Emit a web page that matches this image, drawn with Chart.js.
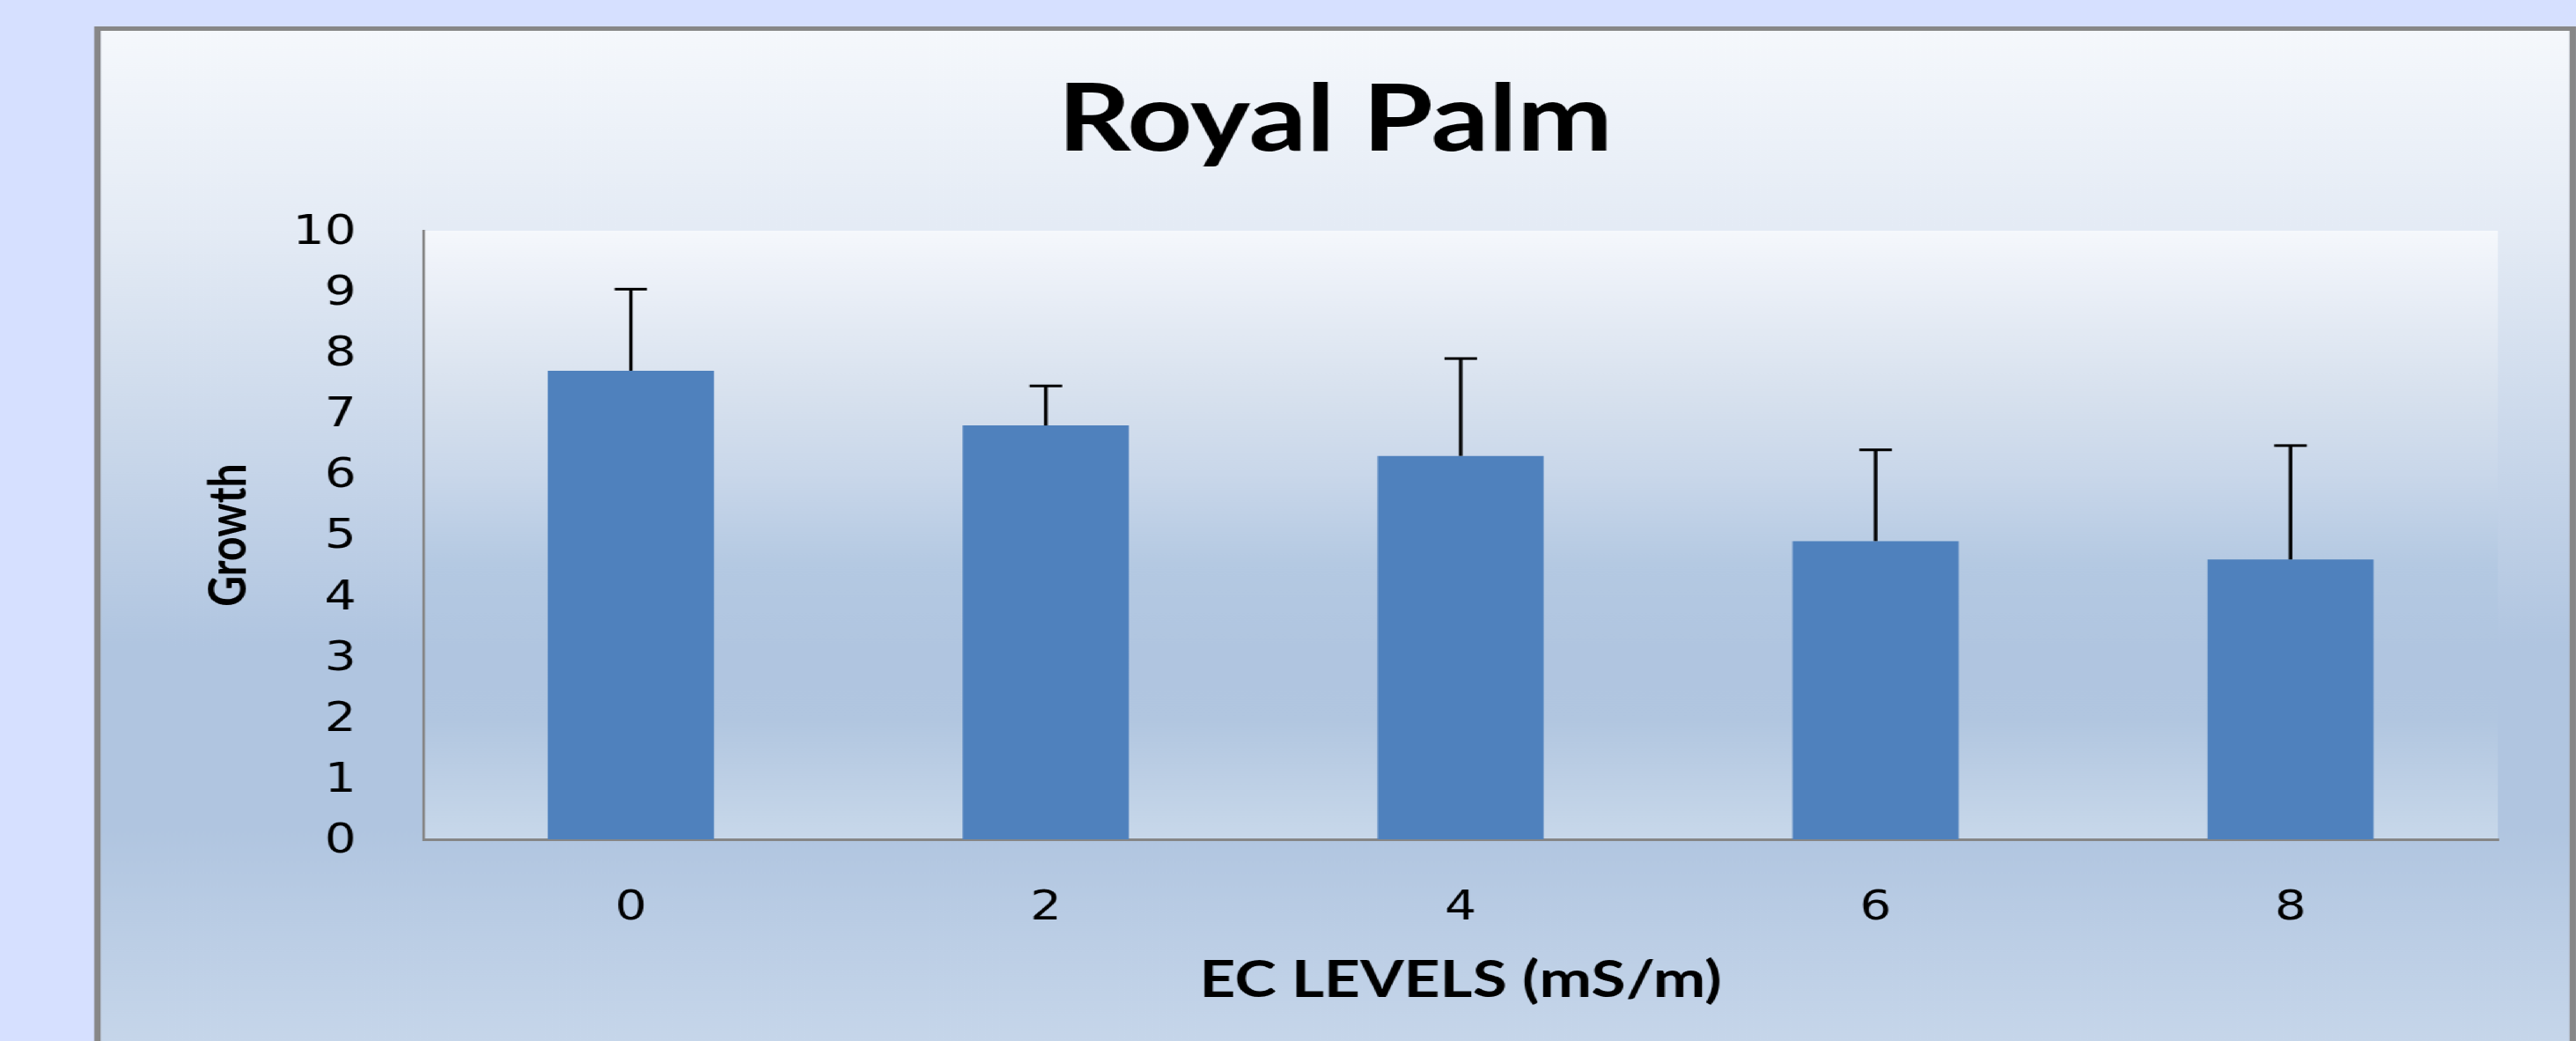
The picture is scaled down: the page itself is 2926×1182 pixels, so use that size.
<!DOCTYPE html>
<html>
<head>
<meta charset="utf-8">
<title>Royal Palm</title>
<script src="https://cdn.jsdelivr.net/npm/chart.js@4/dist/chart.umd.min.js"></script>
<style>
  html, body { margin: 0; padding: 0; overflow: hidden; }
  body { width: 2926px; height: 1182px; background: #d6e0ff; position: relative; }
  /* the original picture is stretched sideways, so draw narrow and widen */
  #wrap { position: absolute; left: 0; top: 0; width: 2379px; height: 1182px;
    transform: scaleX(1.2299); transform-origin: 0 0; }
  #frame { position: absolute; left: 87px; top: 30px; width: 2292px; height: 1162px;
    box-sizing: border-box; border: 6px solid #878787; border-top-width: 5px;
    background: linear-gradient(to bottom, #f5f8fc 0px, #e4ebf5 225px, #c6d5e9 500px,
      #b0c5e0 700px, #b0c5e0 900px, #c6d6ea 1150px); }
  #chart { position: absolute; left: 0; top: 0; }
</style>
</head>
<body>
<div id="wrap">
  <div id="frame"></div>
  <canvas id="chart" width="2379" height="1182"></canvas>
</div>
<script>
"use strict";
const $ = (id) => document.getElementById(id);

const EC_LEVELS = ["0", "2", "4", "6", "8"];
const GROWTH = [7.7, 6.8, 6.3, 4.9, 4.6];
const ERROR_PLUS = [1.34, 0.65, 1.6, 1.5, 1.87];
const Y_MIN = 0, Y_MAX = 10, Y_STEP = 1;

const BAR = "#4f81bd";
const AXIS = "#868686";

// plot area gets its own soft gradient, like the office chart
const plotFill = {
  id: "plotFill",
  beforeDraw(chart) {
    const { ctx, chartArea: a } = chart;
    const g = ctx.createLinearGradient(0, a.top, 0, a.bottom);
    g.addColorStop(0, "#f5f8fc");
    g.addColorStop(0.06, "#eef2f9");
    g.addColorStop(0.27, "#d7e1ee");
    g.addColorStop(0.4, "#c9d7ea");
    g.addColorStop(0.55, "#b4c9e2");
    g.addColorStop(0.7, "#b0c5e0");
    g.addColorStop(0.8, "#b1c6e0");
    g.addColorStop(1, "#c8d8ea");
    ctx.save();
    ctx.fillStyle = g;
    ctx.fillRect(a.left, a.top, a.right - a.left, a.bottom - a.top);
    ctx.restore();
  },
};

// plus-only error bars with a cap
const errorBars = {
  id: "errorBars",
  afterDatasetsDraw(chart) {
    const { ctx, scales: { y } } = chart;
    const meta = chart.getDatasetMeta(0);
    ctx.save();
    ctx.strokeStyle = "#000";
    meta.data.forEach((bar, i) => {
      const top = y.getPixelForValue(GROWTH[i] + ERROR_PLUS[i]);
      ctx.lineWidth = 3.3;
      ctx.beginPath();
      ctx.moveTo(bar.x, bar.y);
      ctx.lineTo(bar.x, top);
      ctx.stroke();
      ctx.lineWidth = 3;
      ctx.beginPath();
      ctx.moveTo(bar.x - 15, top);
      ctx.lineTo(bar.x + 15, top);
      ctx.stroke();
    });
    ctx.restore();
  },
};

function draw() {
  new Chart($("chart"), {
    type: "bar",
    data: {
      labels: EC_LEVELS,
      datasets: [{ label: "Growth", data: GROWTH, backgroundColor: BAR,
        barPercentage: 0.4, categoryPercentage: 1.0 }],
    },
    options: {
      responsive: false,
      animation: false,
      devicePixelRatio: 1,
      layout: { padding: { top: 0, left: 159, right: 72, bottom: 0 } },
      plugins: {
        legend: { display: false },
        tooltip: { enabled: false },
        title: { display: true, text: "Royal Palm", color: "#000",
          font: { family: "Lato", size: 105, weight: "bold", lineHeight: 1.2 },
          padding: { top: 74, bottom: 62 } },
      },
      scales: {
        x: {
          grid: { display: false, drawTicks: false },
          border: { display: true, color: AXIS, width: 3 },
          ticks: { color: "#000", font: { family: "DejaVu Sans", size: 46 },
            padding: 51, maxRotation: 0 },
          title: { display: true, text: "EC LEVELS (mS/m)", color: "#000",
            font: { family: "Lato", size: 58, weight: "bold", lineHeight: 1.2 },
            padding: { top: 0, bottom: 34 } },
          afterFit: (s) => { s.height = 229; },
        },
        y: {
          min: Y_MIN, max: Y_MAX,
          grid: { display: false, drawTicks: false },
          border: { display: true, color: AXIS, width: 2.5 },
          ticks: { stepSize: Y_STEP, color: "#000", labelOffset: 3,
            font: { family: "DejaVu Sans", size: 46 }, padding: 62 },
          title: { display: true, text: "Growth", color: "#000",
            font: { family: "Lato", size: 48, weight: "bold", lineHeight: 1.2 },
            padding: { top: 24, bottom: 0 } },
          afterFit: (s) => { s.width = 232; },
        },
      },
    },
    plugins: [plotFill, errorBars],
  });
}

Promise.all([
  document.fonts.load("bold 105px Lato"),
  document.fonts.load("46px 'DejaVu Sans'"),
]).then(draw, draw);
</script>
</body>
</html>
